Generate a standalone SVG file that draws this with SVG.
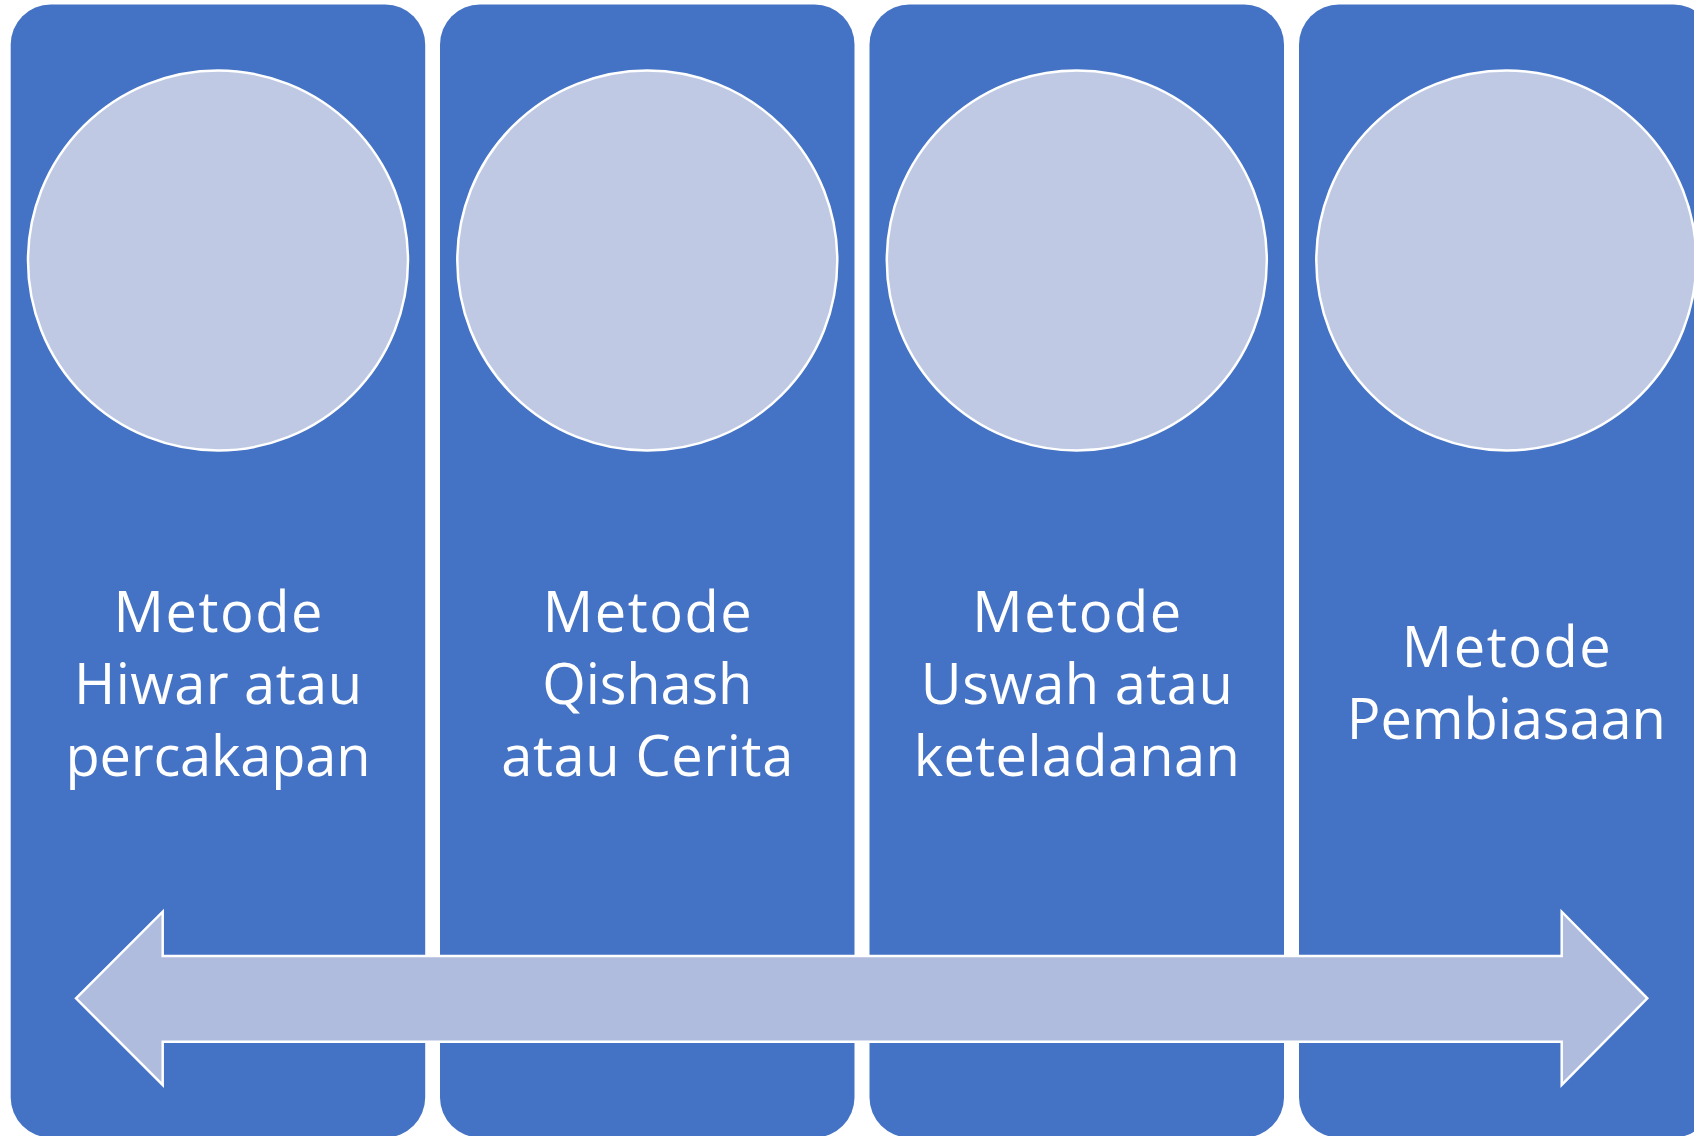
<svg xmlns="http://www.w3.org/2000/svg" width="1694" height="1136" viewBox="0 0 1694 1136">
<style>
.panel{fill:#4472C4;}
.circ{fill:#BFC9E3;stroke:#FFFFFF;stroke-width:2.5;}
.lbl{fill:#FFFFFF;font-family:"Open Sans","Noto Sans",sans-serif;font-size:56px;text-anchor:middle;}
.arrow{fill:#AFBCDD;stroke:#FFFFFF;stroke-width:2.5;}
</style>
<rect width="1694" height="1136" fill="#FFFFFF"/>
<g id="node1">
<rect class="panel" x="10.7" y="4.5" width="414.5" height="1133" rx="40" ry="40"/>
<circle class="circ" cx="218" cy="260.5" r="190"/>
<text class="lbl" x="218" y="632" textLength="209" lengthAdjust="spacing">Metode</text>
<text class="lbl" x="218" y="704" textLength="288" lengthAdjust="spacing">Hiwar atau</text>
<text class="lbl" x="218" y="776" textLength="305" lengthAdjust="spacing">percakapan</text>
</g>
<g id="node2">
<rect class="panel" x="440" y="4.5" width="414.5" height="1133" rx="40" ry="40"/>
<circle class="circ" cx="647.3" cy="260.5" r="190"/>
<text class="lbl" x="647.3" y="632" textLength="209" lengthAdjust="spacing">Metode</text>
<text class="lbl" x="647.3" y="704" textLength="210" lengthAdjust="spacing">Qishash</text>
<text class="lbl" x="647.3" y="776" textLength="292" lengthAdjust="spacing">atau Cerita</text>
</g>
<g id="node3">
<rect class="panel" x="869.5" y="4.5" width="414.5" height="1133" rx="40" ry="40"/>
<circle class="circ" cx="1076.8" cy="260.5" r="190"/>
<text class="lbl" x="1076.8" y="632" textLength="209" lengthAdjust="spacing">Metode</text>
<text class="lbl" x="1076.8" y="704" textLength="312" lengthAdjust="spacing">Uswah atau</text>
<text class="lbl" x="1076.8" y="776" textLength="326" lengthAdjust="spacing">keteladanan</text>
</g>
<g id="node4">
<rect class="panel" x="1299" y="4.5" width="414.5" height="1133" rx="40" ry="40"/>
<circle class="circ" cx="1506.3" cy="260.5" r="190"/>
<text class="lbl" x="1506.3" y="667" textLength="209" lengthAdjust="spacing">Metode</text>
<text class="lbl" x="1506.3" y="739" textLength="319" lengthAdjust="spacing">Pembiasaan</text>
</g>
<g id="connectors">
<polygon class="arrow" points="76,998.3 162.7,911.7 162.7,956 1561.7,956 1561.7,911.7 1647.3,998.3 1561.7,1085 1561.7,1041.7 162.7,1041.7 162.7,1085"/>
</g>
</svg>
